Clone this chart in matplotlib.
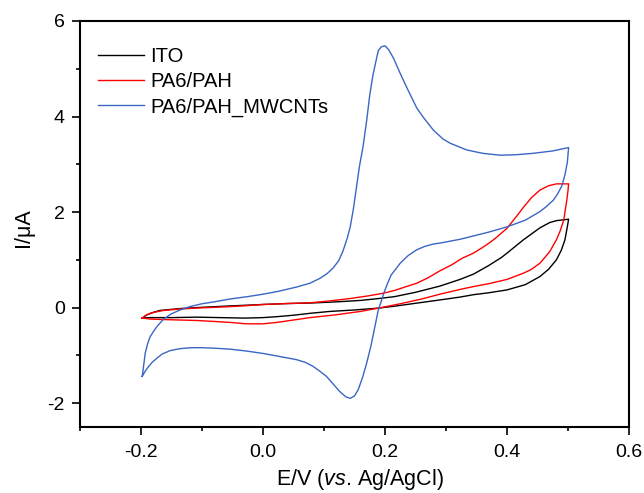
import matplotlib
matplotlib.use("Agg")
import matplotlib.pyplot as plt
from matplotlib.ticker import MultipleLocator

plt.rcParams['font.family'] = ['Liberation Sans', 'DejaVu Sans']
plt.rcParams['mathtext.fontset'] = 'custom'
plt.rcParams['mathtext.rm'] = 'Liberation Sans'
plt.rcParams['mathtext.it'] = 'Liberation Sans:italic'

# ---- data ----
series_names = ["ITO", "PA6/PAH", "PA6/PAH_MWCNTs"]

ito_E = [-0.198, -0.19, -0.18, -0.169, -0.136, -0.109, -0.054, 0.0, 0.04, 0.077,
         0.12, 0.16, 0.19, 0.216, 0.25, 0.29, 0.323, 0.345, 0.37, 0.391, 0.40,
         0.427, 0.454, 0.47, 0.481, 0.501,
         0.499, 0.495, 0.489, 0.481, 0.468, 0.454, 0.43, 0.40, 0.37, 0.345,
         0.323, 0.29, 0.25, 0.216, 0.19, 0.15, 0.11, 0.077, 0.05, 0.023, 0.0,
         -0.03, -0.07, -0.109, -0.15, -0.185, -0.198]
ito_I = [-0.22, -0.15, -0.10, -0.06, -0.02, 0.0, 0.035, 0.065, 0.085, 0.095,
         0.12, 0.15, 0.19, 0.23, 0.32, 0.45, 0.59, 0.70, 0.88, 1.05, 1.14,
         1.42, 1.67, 1.78, 1.82, 1.85,
         1.70, 1.42, 1.20, 1.00, 0.80, 0.65, 0.48, 0.37, 0.31, 0.27,
         0.22, 0.16, 0.09, 0.03, -0.01, -0.05, -0.08, -0.12, -0.16, -0.19, -0.21,
         -0.22, -0.21, -0.20, -0.21, -0.21, -0.22]

pah_E = [-0.198, -0.192, -0.185, -0.175, -0.163, -0.136, -0.109, -0.08, -0.054,
         -0.027, 0.0, 0.04, 0.077, 0.11, 0.143, 0.17, 0.197, 0.216, 0.235,
         0.252, 0.27, 0.29, 0.31, 0.326, 0.345, 0.365, 0.38, 0.40, 0.415,
         0.427, 0.44, 0.454, 0.468, 0.481, 0.501,
         0.500, 0.498, 0.493, 0.487, 0.481, 0.47, 0.454, 0.44, 0.427, 0.40,
         0.37, 0.345, 0.323, 0.29, 0.26, 0.225, 0.19, 0.16, 0.12, 0.077, 0.05,
         0.023, 0.0, -0.027, -0.054, -0.08, -0.109, -0.136, -0.165, -0.185,
         -0.198]
pah_I = [-0.22, -0.16, -0.12, -0.09, -0.06, -0.03, -0.01, 0.005, 0.02,
         0.04, 0.065, 0.085, 0.10, 0.14, 0.19, 0.24, 0.30, 0.36, 0.44,
         0.51, 0.62, 0.77, 0.90, 1.03, 1.14, 1.30, 1.44, 1.66, 1.90,
         2.10, 2.30, 2.46, 2.55, 2.59, 2.59,
         2.45, 2.25, 1.83, 1.60, 1.42, 1.17, 0.93, 0.80, 0.72, 0.59,
         0.50, 0.44, 0.38, 0.28, 0.18, 0.08, -0.01, -0.08, -0.15, -0.21, -0.26,
         -0.31, -0.34, -0.34, -0.31, -0.29, -0.27, -0.26, -0.25, -0.24,
         -0.22]

cnt_E = [-0.198, -0.195, -0.193, -0.189, -0.185, -0.179, -0.174, -0.163, -0.150,
         -0.136, -0.120, -0.100, -0.080, -0.054, -0.025, 0.0, 0.025, 0.055,
         0.077, 0.093, 0.105, 0.115, 0.124, 0.131, 0.138, 0.143, 0.148, 0.153,
         0.158, 0.164, 0.170, 0.175, 0.180, 0.185, 0.189, 0.194, 0.200, 0.206,
         0.214, 0.225, 0.236, 0.252, 0.263, 0.279, 0.295, 0.307, 0.334, 0.36,
         0.389, 0.415, 0.443, 0.475, 0.501,
         0.499, 0.495, 0.490, 0.483, 0.476, 0.465, 0.454, 0.43, 0.40, 0.37,
         0.345, 0.323, 0.29, 0.279, 0.265, 0.252, 0.238, 0.225, 0.216, 0.210,
         0.204, 0.198, 0.193, 0.189, 0.185, 0.177, 0.170, 0.163, 0.156, 0.150,
         0.143, 0.136, 0.126, 0.115, 0.104, 0.093, 0.082, 0.070, 0.055, 0.030,
         0.0, -0.027, -0.054, -0.080, -0.100, -0.118, -0.136, -0.152, -0.165,
         -0.174, -0.182, -0.188, -0.193, -0.198]
cnt_I = [-1.44, -1.15, -0.95, -0.75, -0.61, -0.49, -0.40, -0.24, -0.13,
         -0.05, 0.02, 0.08, 0.12, 0.18, 0.23, 0.28, 0.34, 0.43,
         0.51, 0.61, 0.71, 0.83, 0.98, 1.18, 1.45, 1.69, 2.05, 2.50,
         2.95, 3.37, 3.92, 4.45, 4.85, 5.15, 5.38, 5.46, 5.48, 5.40,
         5.22, 4.90, 4.60, 4.18, 3.98, 3.72, 3.53, 3.44, 3.30, 3.23,
         3.19, 3.20, 3.23, 3.28, 3.35,
         3.05, 2.78, 2.55, 2.38, 2.25, 2.12, 2.01, 1.83, 1.69, 1.58,
         1.50, 1.43, 1.35, 1.33, 1.28, 1.21, 1.09, 0.93, 0.78, 0.68,
         0.50, 0.30, 0.10, -0.05, -0.30, -0.80, -1.16, -1.47, -1.72, -1.85,
         -1.90, -1.87, -1.76, -1.60, -1.44, -1.33, -1.23, -1.15, -1.09, -1.03,
         -0.96, -0.91, -0.87, -0.85, -0.84, -0.84, -0.86, -0.90, -0.97,
         -1.06, -1.15, -1.24, -1.33, -1.44]

x_ticks = [-0.2, 0.0, 0.2, 0.4, 0.6]
x_ticklabels = ["-0.2", "0.0", "0.2", "0.4", "0.6"]
y_ticks = [-2, 0, 2, 4, 6]
y_ticklabels = ["-2", "0", "2", "4", "6"]

# ---- figure ----
fig = plt.figure(figsize=(6.44, 4.93), dpi=100)
ax = fig.add_axes([80/644, 1 - 427/493, 549/644, 406/493])

colors = ["#000000", "#ff0000", "#3a66c4"]
for E, I, name, c in zip([ito_E, pah_E, cnt_E], [ito_I, pah_I, cnt_I], series_names, colors):
    ax.plot(E, I, color=c, lw=1.0, label=name)

ax.set_xlim(-0.3, 0.6)
ax.set_ylim(-2.5, 6)
ax.set_xticks(x_ticks)
ax.set_xticklabels(x_ticklabels)
ax.set_yticks(y_ticks)
ax.set_yticklabels(y_ticklabels)
ax.xaxis.set_minor_locator(MultipleLocator(0.1))
ax.yaxis.set_minor_locator(MultipleLocator(1))

for s in ax.spines.values():
    s.set_linewidth(1.5)
ax.tick_params(which='both', direction='out', top=False, right=False, width=1.2)
ax.tick_params(which='major', length=5.5, labelsize=14)
ax.tick_params(axis='x', which='major', pad=6.5)
ax.tick_params(axis='y', which='major', pad=5.5)
ax.tick_params(which='minor', length=3)

ax.set_xlabel(r"E/V ($\mathit{vs}$. Ag/AgCl)", fontsize=15.5)
ax.set_ylabel("I/μA", fontsize=15.5)
ax.xaxis.set_label_coords(0.51, -0.099)
ax.yaxis.set_label_coords(-0.084, 0.49)

leg = ax.legend(loc='upper left', bbox_to_anchor=(0.033, 0.935), frameon=False,
                fontsize=14.5, handlelength=2.3, handletextpad=0.3,
                labelspacing=0.3, borderpad=0, borderaxespad=0)

fig.savefig("out.png", dpi=100)
